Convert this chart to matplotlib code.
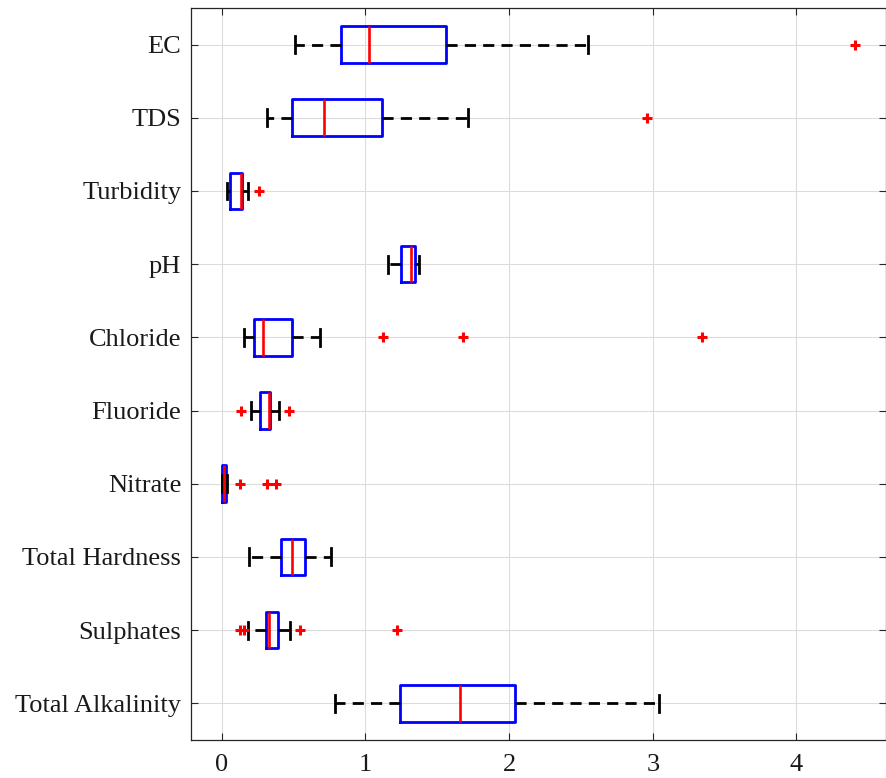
import matplotlib
matplotlib.use("Agg")
import matplotlib.pyplot as plt

categories = ["EC", "TDS", "Turbidity", "pH", "Chloride", "Fluoride",
              "Nitrate", "Total Hardness", "Sulphates", "Total Alkalinity"]
whislo = [0.511, 0.313, 0.037, 1.157, 0.153, 0.203, 0.000, 0.190, 0.186, 0.787]
q1     = [0.831, 0.492, 0.060, 1.246, 0.225, 0.266, 0.005, 0.415, 0.308, 1.242]
med    = [1.026, 0.715, 0.132, 1.315, 0.288, 0.332, 0.018, 0.489, 0.329, 1.659]
q3     = [1.559, 1.116, 0.144, 1.343, 0.486, 0.335, 0.033, 0.580, 0.394, 2.042]
whishi = [2.547, 1.715, 0.186, 1.371, 0.681, 0.398, 0.038, 0.759, 0.475, 3.043]
fliers = [[4.405], [2.961], [0.260], [], [1.120, 1.678, 3.341],
          [0.131, 0.467], [0.125, 0.315, 0.376], [], [0.130, 0.153, 0.548, 1.220], []]
xticks = [0, 1, 2, 3, 4]

plt.rcParams['font.family'] = ['Liberation Serif', 'DejaVu Serif']

fig = plt.figure(figsize=(8.87, 7.78), dpi=100)
ax = fig.add_axes([0.2153, 0.049, 0.7831, 0.9407])

stats = []
for i, c in enumerate(categories):
    stats.append(dict(label=c, whislo=whislo[i], q1=q1[i], med=med[i],
                      q3=q3[i], whishi=whishi[i], fliers=fliers[i]))

n = len(categories)
positions = list(range(n, 0, -1))
ax.grid(True, color='#dcdcdc', linewidth=0.8, zorder=0)
ax.set_axisbelow(True)
ax.bxp(stats, positions=positions, vert=False, widths=0.5, capwidths=0.23,
       boxprops=dict(color='#0000ff', linewidth=2.0),
       medianprops=dict(color='#ff0000', linewidth=1.9),
       whiskerprops=dict(color='black', linewidth=2.0, linestyle=(0, (4.0, 2.6))),
       capprops=dict(color='black', linewidth=2.0),
       flierprops=dict(marker='+', markeredgecolor='#ff0000', markersize=7,
                       markeredgewidth=2.2, linestyle='none'))

ax.set_xlim(-0.214, 4.62)
ax.set_ylim(0.5, n + 0.5)
ax.set_xticks(xticks)
ax.set_yticks(positions)
ax.set_yticklabels(categories)
ax.tick_params(axis='both', direction='in', top=True, right=True, length=5,
               width=0.8, color='#262626', labelsize=19, labelcolor='#1a1a1a')
ax.tick_params(axis='x', pad=10)
ax.tick_params(axis='y', pad=7)
for s in ax.spines.values():
    s.set_color('#262626')
    s.set_linewidth(0.9)

fig.savefig("out.png", dpi=100)
